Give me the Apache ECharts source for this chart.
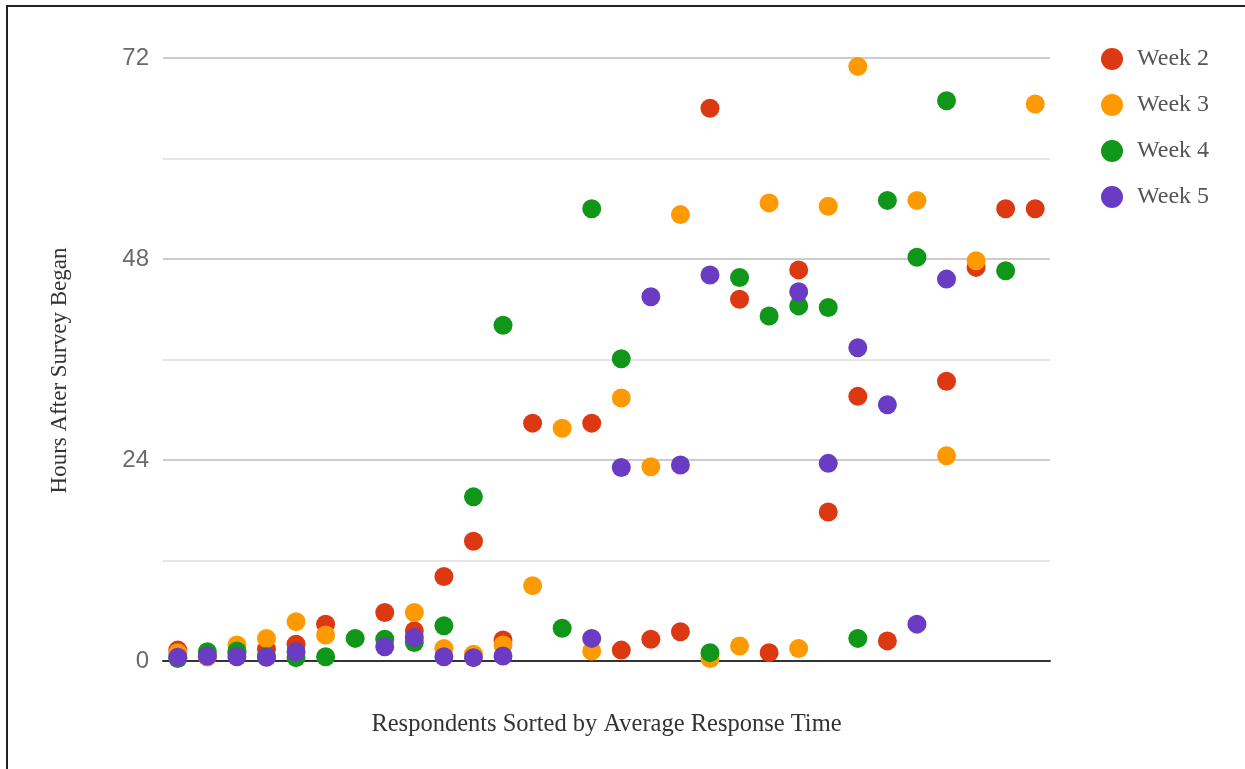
<!DOCTYPE html>
<html>
<head>
<meta charset="utf-8">
<script src="https://cdn.jsdelivr.net/npm/echarts@6/dist/echarts.min.js"></script>
<style>
  html, body { margin: 0; padding: 0; background: #fff; }
  #chart { width: 1245px; height: 769px; }
  #frame {
    position: absolute; left: 6px; top: 5px; width: 1245px; height: 769px;
    border-left: 2px solid #222; border-top: 2px solid #222; pointer-events: none;
  }
</style>
</head>
<body>
<div id="chart"></div>
<div id="frame"></div>
<script>
// respondents 1..30, sorted by average response time
const respondents = Array.from({ length: 30 }, (_, i) => String(i + 1))

const week2 = [1.3, 0.5, 1.0, 1.4, 2.0, 4.4, null, 5.8, 3.6, 10.1, 14.3, 2.5, 28.4, null, 28.4,
  1.3, 2.6, 3.5, 66.0, 43.2, 1.0, 46.7, 17.8, 31.6, 2.4, null, 33.4, 47.0, 54.0, 54.0]
const week3 = [1.0, 0.5, 1.9, 2.7, 4.7, 3.1, null, null, 5.8, 1.5, 0.8, 1.9, 9.0, 27.8, 1.2,
  31.4, 23.2, 53.3, 0.3, 1.8, 54.7, 1.5, 54.3, 71.0, null, 55.0, 24.5, 47.8, null, 66.5]
const week4 = [0.3, 1.1, 1.2, 0.5, 0.4, 0.5, 2.7, 2.6, 2.2, 4.2, 19.6, 40.1, null, 3.9, 54.0,
  36.1, null, null, 1.0, 45.8, 41.2, 42.4, 42.2, 2.7, 55.0, 48.2, 66.9, null, 46.6, null]
const week5 = [0.45, 0.6, 0.5, 0.45, 1.1, null, null, 1.7, 2.8, 0.5, 0.4, 0.6, null, null, 2.7,
  23.1, 43.5, 23.4, 46.1, null, null, 44.1, 23.6, 37.4, 30.6, 4.4, 45.6, null, null, null]

const seriesNames = ['Week 2', 'Week 3', 'Week 4', 'Week 5']
const colors = ['#dc3912', '#ff9900', '#109618', '#6a3cc4']

const chart = echarts.init(document.getElementById('chart'))

chart.setOption({
  animation: false,
  backgroundColor: '#fff',
  color: colors,
  grid: { left: 163, right: 195, top: 58, bottom: 108 },
  legend: {
    orient: 'vertical',
    left: 1096,
    top: 42,
    icon: 'circle',
    itemWidth: 22,
    itemHeight: 22,
    itemGap: 22,
    textStyle: { fontFamily: 'Liberation Serif', fontSize: 24, color: '#555', padding: [0, 0, 0, 9] },
    data: seriesNames
  },
  xAxis: {
    type: 'category',
    data: respondents,
    boundaryGap: true,
    name: 'Respondents Sorted by Average Response Time',
    nameLocation: 'middle',
    nameGap: 51,
    nameTextStyle: { fontFamily: 'Liberation Serif', fontSize: 24.5, color: '#333' },
    axisLine: { lineStyle: { color: '#333', width: 2 } },
    axisTick: { show: false },
    axisLabel: { show: false }
  },
  yAxis: {
    type: 'value',
    min: 0,
    max: 72,
    interval: 12,
    name: 'Hours After Survey Began',
    nameLocation: 'middle',
    nameGap: 92,
    nameTextStyle: { fontFamily: 'Liberation Serif', fontSize: 23, color: '#333', padding: [0, 22, 0, 0] },
    axisLine: { show: false },
    axisTick: { show: false },
    axisLabel: {
      color: '#6a6a6a',
      fontFamily: 'Liberation Sans',
      fontSize: 24,
      margin: 14,
      formatter: v => (v % 24 === 0 ? String(v) : '')
    },
    splitLine: { lineStyle: { color: ['#cccccc', '#e6e6e6'], width: 2 } }
  },
  series: [week2, week3, week4, week5].map((d, i) => ({
    name: seriesNames[i],
    type: 'scatter',
    data: d,
    symbolSize: 19,
    itemStyle: { color: colors[i], opacity: 1 }
  }))
})
</script>
</body>
</html>
